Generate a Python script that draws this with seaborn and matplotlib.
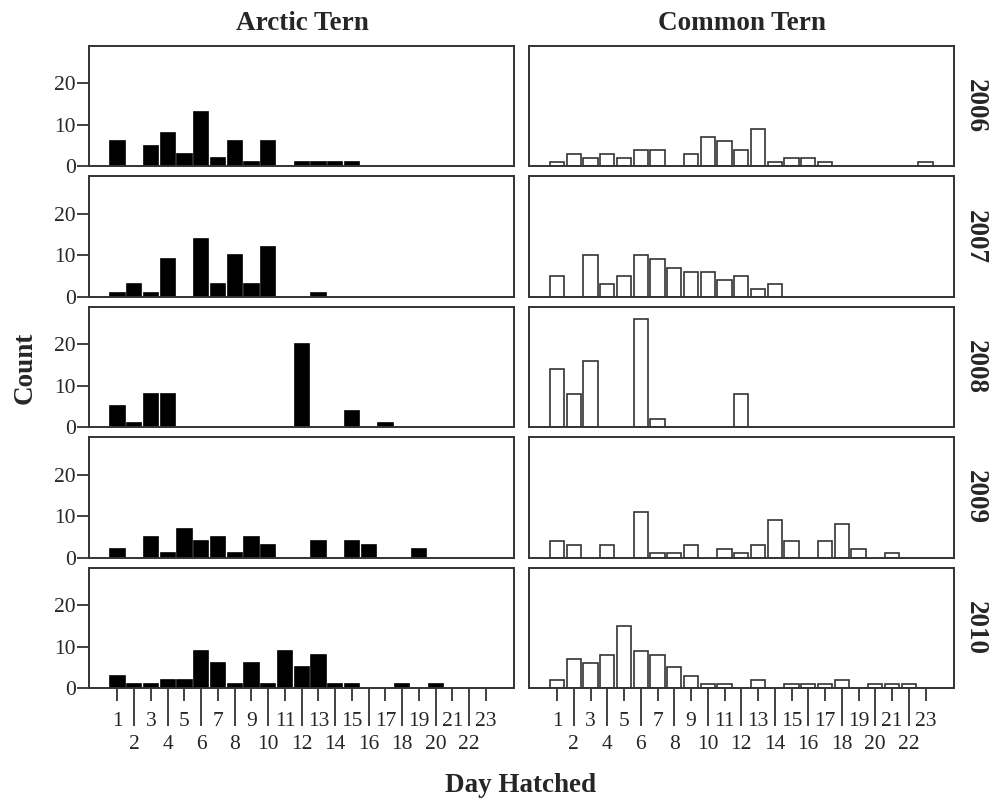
import seaborn as sns
import matplotlib.pyplot as plt
import pandas as pd

days = list(range(1, 24))
years = ["2006", "2007", "2008", "2009", "2010"]
species = ["Arctic Tern", "Common Tern"]

# counts per day hatched (day 1..23)
arctic_2006 = [6, 0, 5, 8, 3, 13, 2, 6, 1, 6, 0, 1, 1, 1, 1, 0, 0, 0, 0, 0, 0, 0, 0]
arctic_2007 = [1, 3, 1, 9, 0, 14, 3, 10, 3, 12, 0, 0, 1, 0, 0, 0, 0, 0, 0, 0, 0, 0, 0]
arctic_2008 = [5, 1, 8, 8, 0, 0, 0, 0, 0, 0, 0, 20, 0, 0, 4, 0, 1, 0, 0, 0, 0, 0, 0]
arctic_2009 = [2, 0, 5, 1, 7, 4, 5, 1, 5, 3, 0, 0, 4, 0, 4, 3, 0, 0, 2, 0, 0, 0, 0]
arctic_2010 = [3, 1, 1, 2, 2, 9, 6, 1, 6, 1, 9, 5, 8, 1, 1, 0, 0, 1, 0, 1, 0, 0, 0]

common_2006 = [1, 3, 2, 3, 2, 4, 4, 0, 3, 7, 6, 4, 9, 1, 2, 2, 1, 0, 0, 0, 0, 0, 1]
common_2007 = [5, 0, 10, 3, 5, 10, 9, 7, 6, 6, 4, 5, 2, 3, 0, 0, 0, 0, 0, 0, 0, 0, 0]
common_2008 = [14, 8, 16, 0, 0, 26, 2, 0, 0, 0, 0, 8, 0, 0, 0, 0, 0, 0, 0, 0, 0, 0, 0]
common_2009 = [4, 3, 0, 3, 0, 11, 1, 1, 3, 0, 2, 1, 3, 9, 4, 0, 4, 8, 2, 0, 1, 0, 0]
common_2010 = [2, 7, 6, 8, 15, 9, 8, 5, 3, 1, 1, 0, 2, 0, 1, 1, 1, 2, 0, 1, 1, 1, 0]

arctic = [arctic_2006, arctic_2007, arctic_2008, arctic_2009, arctic_2010]
common = [common_2006, common_2007, common_2008, common_2009, common_2010]

rows = []
for yr, a, c in zip(years, arctic, common):
    for d, n in zip(days, a):
        rows.append({"Year": yr, "Species": "Arctic Tern", "Day": d, "Count": n})
    for d, n in zip(days, c):
        rows.append({"Year": yr, "Species": "Common Tern", "Day": d, "Count": n})
df = pd.DataFrame(rows)
df = df[df["Count"] > 0]

sns.set_style("ticks")
plt.rcParams["font.family"] = ["Liberation Serif", "DejaVu Serif"]

fig, axes = plt.subplots(5, 2, figsize=(9.94, 8.01), dpi=100)
fig.subplots_adjust(left=0.0895, right=0.9598, top=0.9426, bottom=0.141,
                    wspace=0.033, hspace=0.083)

fills = ["black", "white"]
edges = ["black", "#333333"]

for i, yr in enumerate(years):
    for j, sp in enumerate(species):
        ax = axes[i, j]
        sub = df[(df["Year"] == yr) & (df["Species"] == sp)]
        sns.barplot(data=sub, x="Day", y="Count", native_scale=True, orient="x",
                    width=0.85, color=fills[j], edgecolor=edges[j], linewidth=1.2,
                    saturation=1, errorbar=None, ax=ax)
        ax.set_xlim(-0.7, 24.7)
        ax.set_ylim(0, 29)
        ax.set_xlabel("")
        ax.set_ylabel("")
        for s in ax.spines.values():
            s.set_color("#333333")
            s.set_linewidth(1.4)

        if j == 0:
            ax.set_yticks([0, 10, 20])
            ax.tick_params(axis="y", length=8.5, width=1.3, labelsize=15.5, pad=1,
                           color="#333333")
        else:
            ax.set_yticks([])
            ax.text(1.049, 0.5, yr, transform=ax.transAxes, rotation=-90,
                    ha="center", va="center", fontsize=19.5, fontweight="bold")

        if i == 4:
            odd = [d for d in days if d % 2 == 1]
            even = [d for d in days if d % 2 == 0]
            ax.set_xticks(odd, [str(d) for d in odd])
            ax.set_xticks(even, [str(d) for d in even], minor=True)
            ax.tick_params(axis="x", which="major", length=9.5, width=1.3,
                           pad=8, labelsize=15.5, color="#333333")
            ax.tick_params(axis="x", which="minor", length=27, width=1.3,
                           pad=7, labelsize=15.5, color="#333333")
        else:
            ax.set_xticks([])
            ax.set_xticks([], minor=True)

fig.text(302 / 994, 1 - 23 / 801, "Arctic Tern", ha="center", va="center",
         fontsize=19.5, fontweight="bold")
fig.text(742 / 994, 1 - 23 / 801, "Common Tern", ha="center", va="center",
         fontsize=19.5, fontweight="bold")
fig.text(25 / 994, 1 - 368 / 801, "Count", rotation=90, ha="center", va="center",
         fontsize=19.5, fontweight="bold")
fig.text(521 / 994, 1 - 786 / 801, "Day Hatched", ha="center", va="center",
         fontsize=19.5, fontweight="bold")

plt.savefig("out.png", dpi=100)
